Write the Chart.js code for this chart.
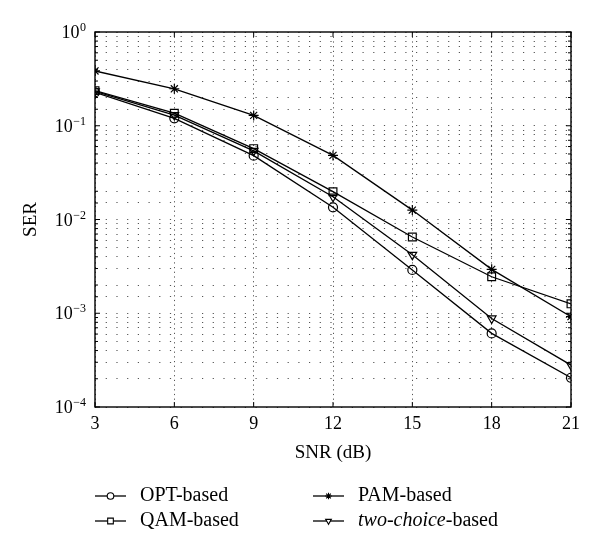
<!DOCTYPE html>
<html>
<head>
<meta charset="utf-8">
<script src="https://cdn.jsdelivr.net/npm/chart.js@4/dist/chart.umd.min.js"></script>
<style>
html, body { margin: 0; padding: 0; background: #fff; }
#wrap { width: 600px; height: 551px; }
</style>
</head>
<body>
<div id="wrap"><canvas id="ser-chart"></canvas></div>
<script>
// SNR (dB) on x, SER on y (log)
var snr = [3, 6, 9, 12, 15, 18, 21];
var optSer = [0.227, 0.120, 0.048, 0.0135, 0.0029, 0.00061, 0.000205];
var qamSer = [0.237, 0.136, 0.057, 0.0198, 0.0065, 0.00245, 0.00126];
var pamSer = [0.384, 0.248, 0.129, 0.0483, 0.0126, 0.00294, 0.00092];
var twoSer = [0.233, 0.130, 0.054, 0.0175, 0.0042, 0.00088, 0.00028];
var seriesNames = ['OPT-based', 'QAM-based', 'PAM-based', 'two-choice-based'];
var xTicks = [3, 6, 9, 12, 15, 18, 21];

var serif = "'Liberation Serif', 'DejaVu Serif', serif";

function toPoints(ys) {
    var pts = [];
    for (var i = 0; i < snr.length; i++) {
        pts.push({x: snr[i], y: ys[i]});
    }
    return pts;
}

function makeSet(label, ys, style, radius, rot) {
    return {
        label: label,
        data: toPoints(ys),
        borderColor: '#000',
        borderWidth: 1.3,
        pointStyle: style,
        pointRadius: radius,
        pointRotation: rot || 0,
        pointBorderColor: '#000',
        pointBackgroundColor: 'rgba(0,0,0,0)',
        pointBorderWidth: 1.2,
        fill: false,
        tension: 0
    };
}

// frame, inward ticks, y labels with exponents, legend
var framePlugin = {
    id: 'frame',
    afterDraw: function(chart) {
        var ctx = chart.ctx;
        var a = chart.chartArea;
        var xs = chart.scales.x, ys = chart.scales.y;
        ctx.save();
        ctx.setLineDash([]);
        ctx.strokeStyle = '#000';
        ctx.lineWidth = 1.4;
        ctx.strokeRect(a.left, a.top, a.right - a.left, a.bottom - a.top);

        ctx.lineWidth = 1;
        ctx.beginPath();
        xTicks.forEach(function(v) {
            var px = xs.getPixelForValue(v);
            ctx.moveTo(px, a.bottom); ctx.lineTo(px, a.bottom - 5);
            ctx.moveTo(px, a.top); ctx.lineTo(px, a.top + 5);
        });
        ys.ticks.forEach(function(t) {
            var py = ys.getPixelForValue(t.value);
            var e = Math.log10(t.value);
            var len = Math.abs(e - Math.round(e)) < 1e-6 ? 5 : 3;
            ctx.moveTo(a.left, py); ctx.lineTo(a.left + len, py);
            ctx.moveTo(a.right, py); ctx.lineTo(a.right - len, py);
        });
        ctx.stroke();

        // y tick labels 10^k
        ctx.fillStyle = '#000';
        ctx.textBaseline = 'alphabetic';
        ys.ticks.forEach(function(t) {
            var e = Math.log10(t.value);
            if (Math.abs(e - Math.round(e)) > 1e-6) return;
            e = Math.round(e);
            var py = ys.getPixelForValue(t.value);
            var sup = e < 0 ? '\u2212' + (-e) : String(e);
            ctx.font = '12px ' + serif;
            var wSup = ctx.measureText(sup).width;
            var right = a.left - 9;
            ctx.textAlign = 'left';
            ctx.fillText(sup, right - wSup, py - 1);
            ctx.font = '18px ' + serif;
            ctx.textAlign = 'right';
            ctx.fillText('10', right - wSup - 0.5, py + 6);
        });

        // legend
        var cols = [95, 313];
        var rows = [496, 521];
        var order = [[0, 0, 0], [1, 0, 1], [2, 1, 0], [3, 1, 1]];
        order.forEach(function(o) {
            var ds = chart.data.datasets[o[0]];
            var x0 = cols[o[1]], y0 = rows[o[2]];
            ctx.strokeStyle = '#000';
            ctx.lineWidth = 1.3;
            ctx.beginPath();
            ctx.moveTo(x0, y0); ctx.lineTo(x0 + 31, y0);
            ctx.stroke();
            ctx.lineWidth = 1.1;
            ctx.fillStyle = '#fff';
            Chart.helpers.drawPoint(ctx, {
                pointStyle: ds.pointStyle,
                radius: ds.pointStyle === 'rect' ? 4 : 3.3,
                rotation: ds.pointRotation,
                borderWidth: 1.1
            }, x0 + 15.5, y0);
            ctx.fillStyle = '#000';
            ctx.textAlign = 'left';
            ctx.textBaseline = 'middle';
            var label = ds.label;
            var tx = x0 + 45;
            if (label.indexOf('two-choice') === 0) {
                ctx.font = 'italic 20px ' + serif;
                ctx.fillText('two-choice', tx, y0);
                tx += ctx.measureText('two-choice').width;
                label = label.substring('two-choice'.length);
            }
            ctx.font = '20px ' + serif;
            ctx.fillText(label, tx, y0);
        });
        ctx.restore();
    }
};

var serConfig = {
    type: 'line',
    data: {
        datasets: [
            makeSet(seriesNames[0], optSer, 'circle', 4.5),
            makeSet(seriesNames[1], qamSer, 'rect', 5.5),
            makeSet(seriesNames[2], pamSer, 'star', 5),
            makeSet(seriesNames[3], twoSer, 'triangle', 5, 180)
        ]
    },
    options: {
        responsive: true,
        maintainAspectRatio: false,
        animation: false,
        layout: { padding: { left: 0, right: 29, top: 32, bottom: 87 } },
        plugins: {
            legend: { display: false },
            tooltip: { enabled: false }
        },
        scales: {
            x: {
                type: 'linear',
                min: 3,
                max: 21,
                afterFit: function(s) { s.height = 57; },
                afterBuildTicks: function(s) {
                    s.ticks = xTicks.map(function(v) { return {value: v}; });
                },
                grid: {
                    color: '#555',
                    lineWidth: 1,
                    drawTicks: false
                },
                border: { display: false, dash: [1.2, 3.5] },
                ticks: {
                    color: '#000',
                    font: { family: serif, size: 18 },
                    padding: 6,
                    maxRotation: 0
                },
                title: {
                    display: true,
                    text: 'SNR (dB)',
                    color: '#000',
                    font: { family: serif, size: 19 },
                    padding: { top: 0, bottom: 0 }
                }
            },
            y: {
                type: 'logarithmic',
                min: 0.0001,
                max: 1,
                afterFit: function(s) { s.width = 95; },
                grid: {
                    color: '#555',
                    lineWidth: 1,
                    drawTicks: false
                },
                border: { display: false, dash: [1.2, 9.5] },
                ticks: { display: false, autoSkip: false },
                title: {
                    display: true,
                    text: 'SER',
                    color: '#000',
                    font: { family: serif, size: 19 },
                    padding: { top: 20, bottom: 0 }
                }
            }
        }
    },
    plugins: [framePlugin]
};

var serChart = new Chart(document.getElementById('ser-chart').getContext('2d'), serConfig);
</script>
</body>
</html>
